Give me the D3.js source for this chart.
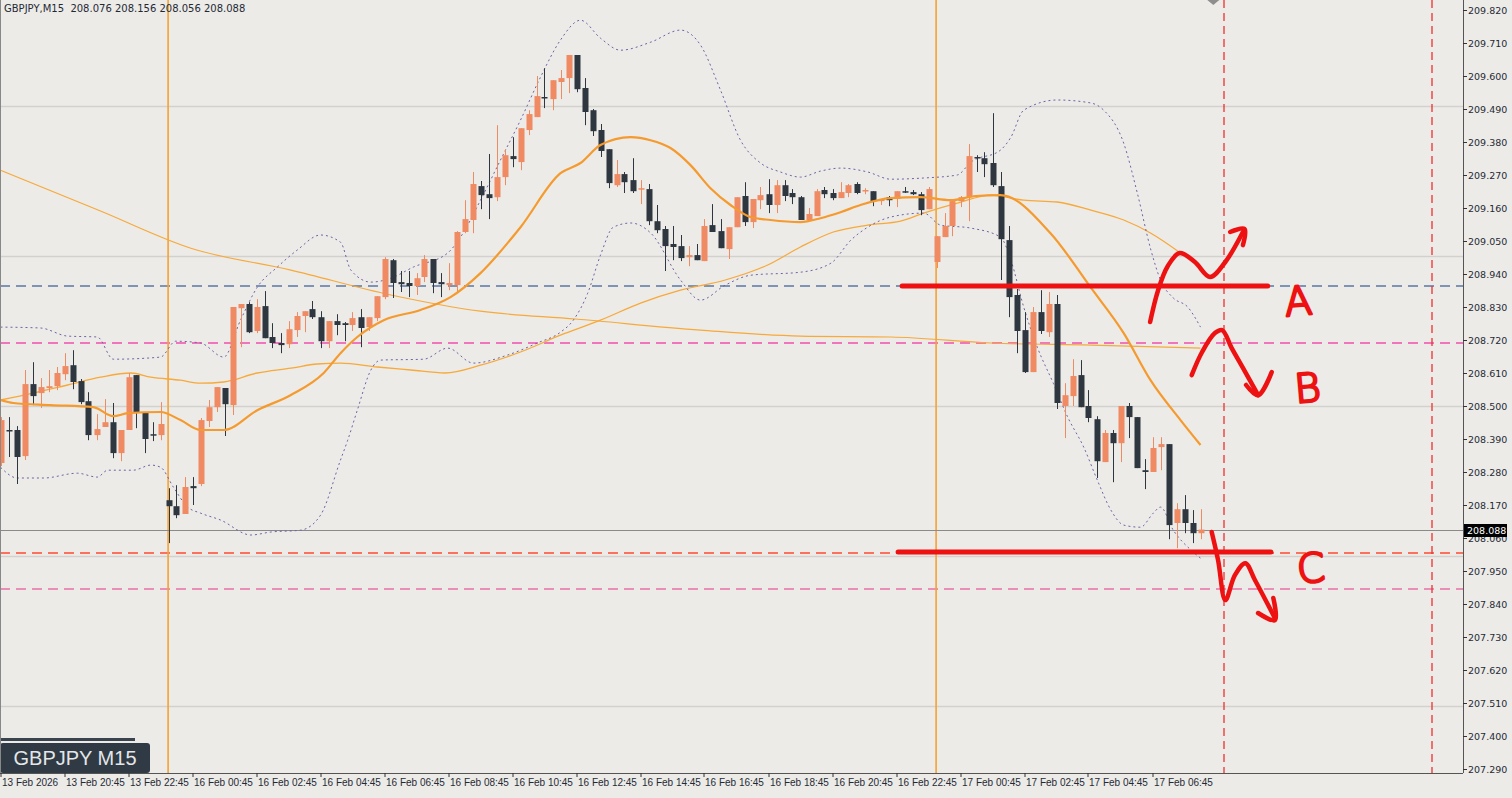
<!DOCTYPE html>
<html><head><meta charset="utf-8">
<script src="https://cdn.jsdelivr.net/npm/d3@7"></script>
<style>
html,body{margin:0;padding:0;background:#ecebe7;overflow:hidden}
svg{display:block}
</style></head><body>
<svg id="c" width="1512" height="798"></svg>
<script>
// ---------- DATA ----------
const symbolTitle = "GBPJPY,M15  208.076 208.156 208.056 208.088";
const badgeText = "GBPJPY M15";
const lastPrice = 208.088;
// candles [open, high, low, close]
const candles = [
[208.310,208.463,208.300,208.453],[208.420,208.463,208.330,208.418],[208.420,208.433,208.240,208.330],
[208.333,208.620,208.320,208.573],[208.573,208.646,208.503,208.533],[208.543,208.593,208.493,208.563],
[208.560,208.620,208.546,208.566],[208.566,208.630,208.553,208.610],[208.606,208.676,208.586,208.633],
[208.636,208.686,208.556,208.580],[208.583,208.590,208.506,208.513],[208.516,208.546,208.386,208.403],
[208.403,208.473,208.386,208.423],[208.430,208.523,208.430,208.446],[208.446,208.510,208.326,208.343],
[208.343,208.420,208.316,208.420],[208.420,208.610,208.420,208.596],[208.603,208.603,208.426,208.480],
[208.480,208.480,208.343,208.390],[208.406,208.446,208.383,208.403],[208.403,208.513,208.386,208.440],
[208.186,208.226,208.043,208.166],[208.166,208.236,208.126,208.136],[208.140,208.263,208.140,208.230],
[208.233,208.263,208.170,208.226],[208.240,208.460,208.233,208.453],[208.450,208.520,208.430,208.496],
[208.496,208.563,208.480,208.563],[208.560,208.560,208.400,208.506],[208.503,208.830,208.470,208.830],
[208.826,208.840,208.696,208.840],[208.840,208.846,208.743,208.746],[208.750,208.856,208.743,208.830],
[208.833,208.883,208.726,208.726],[208.730,208.776,208.693,208.710],[208.710,208.743,208.676,208.703],
[208.706,208.783,208.693,208.756],[208.753,208.813,208.730,208.800],[208.800,208.816,208.746,208.816],
[208.823,208.850,208.790,208.796],[208.796,208.816,208.693,208.716],[208.716,208.783,208.693,208.783],
[208.783,208.806,208.736,208.770],[208.776,208.780,208.716,208.770],[208.770,208.813,208.750,208.793],
[208.796,208.823,208.696,208.760],[208.763,208.796,208.750,208.796],[208.793,208.866,208.783,208.866],
[208.863,208.996,208.856,208.990],[208.986,208.990,208.860,208.910],[208.913,208.950,208.880,208.906],
[208.910,208.950,208.863,208.900],[208.900,208.943,208.870,208.926],[208.930,209.003,208.913,208.990],
[208.990,208.990,208.876,208.910],[208.913,208.943,208.863,208.906],[208.903,208.976,208.886,208.910],
[208.903,209.083,208.880,209.080],[209.080,209.186,209.076,209.123],[209.120,209.280,209.076,209.240],
[209.233,209.250,209.156,209.203],[209.206,209.340,209.123,209.193],[209.196,209.436,209.183,209.263],
[209.263,209.356,209.236,209.336],[209.333,209.396,209.296,209.323],[209.313,209.426,209.286,209.426],
[209.420,209.486,209.403,209.473],[209.463,209.600,209.463,209.533],[209.530,209.626,209.493,209.526],
[209.523,209.586,209.486,209.586],[209.580,209.620,209.523,209.593],[209.593,209.670,209.543,209.670],
[209.670,209.670,209.546,209.556],[209.560,209.593,209.436,209.480],[209.486,209.490,209.400,209.416],
[209.420,209.440,209.330,209.350],[209.356,209.356,209.226,209.243],[209.236,209.320,209.230,209.273],
[209.273,209.280,209.210,209.246],[209.253,209.326,209.210,209.216],[209.223,209.253,209.173,209.226],
[209.223,209.240,209.103,209.116],[209.116,209.170,209.076,209.086],[209.090,209.100,208.950,209.033],
[209.040,209.100,208.986,209.030],[209.033,209.070,208.983,208.993],[208.996,209.033,208.966,209.003],
[209.003,209.040,208.986,208.986],[208.983,209.123,208.983,209.100],[209.103,209.173,209.080,209.080],
[209.083,209.123,209.026,209.026],[209.023,209.096,208.990,209.096],[209.096,209.196,209.096,209.196],
[209.200,209.246,209.100,209.113],[209.113,209.190,209.093,209.190],[209.186,209.230,209.156,209.203],
[209.206,209.256,209.143,209.170],[209.170,209.253,209.143,209.236],[209.236,209.253,209.183,209.200],
[209.210,209.223,209.173,209.196],[209.196,209.200,209.120,209.120],[209.120,209.160,209.120,209.140],
[209.133,209.223,209.133,209.216],[209.220,209.230,209.193,209.206],[209.210,209.223,209.186,209.193],
[209.193,209.246,209.193,209.213],[209.210,209.240,209.196,209.236],[209.240,209.246,209.206,209.210],
[209.216,209.226,209.206,209.220],[209.216,209.216,209.166,209.183],[209.183,209.190,209.170,209.190],
[209.196,209.200,209.166,209.186],[209.190,209.216,209.163,209.216],[209.216,209.230,209.210,209.213],
[209.213,209.220,209.203,209.206],[209.206,209.213,209.136,209.153],[209.156,209.230,209.156,209.223],
[208.980,209.066,208.960,209.066],[209.063,209.143,209.063,209.100],[209.100,209.183,209.066,209.183],
[209.183,209.200,209.163,209.196],[209.196,209.373,209.116,209.333],[209.330,209.336,209.280,209.326],
[209.326,209.346,209.263,209.306],[209.310,209.476,209.230,209.236],[209.233,209.280,208.920,209.056],
[209.053,209.100,208.796,208.863],[208.870,208.890,208.676,208.750],[208.753,208.813,208.610,208.613],
[208.613,208.830,208.613,208.813],[208.813,208.886,208.740,208.750],[208.746,208.880,208.730,208.840],
[208.840,208.870,208.490,208.510],[208.500,208.576,208.393,208.536],[208.533,208.656,208.500,208.600],
[208.603,208.653,208.496,208.496],[208.500,208.553,208.446,208.460],[208.456,208.466,208.260,208.316],
[208.313,208.420,208.313,208.410],[208.410,208.420,208.246,208.376],[208.376,208.500,208.313,208.500],
[208.500,208.510,208.393,208.463],[208.463,208.463,208.293,208.293],[208.286,208.323,208.223,208.280],
[208.280,208.396,208.280,208.360],[208.363,208.396,208.286,208.373],[208.373,208.373,208.056,208.103],
[208.110,208.176,208.026,208.156],[208.156,208.203,208.076,208.110],[208.110,208.153,208.043,208.076],
[208.076,208.156,208.056,208.088]
];
// indicator lines [bar index, price]
const maFast = [[0,208.520],[1.6,208.510],[6.25,208.503],[11.6,208.496],[14.1,208.466],[15.9,208.476],[20,208.480],[22.5,208.453],[25,208.420],[27.9,208.420],[32.1,208.486],[36.25,208.536],[40.4,208.610],[42.5,208.676],[44.6,208.730],[47.9,208.786],[52.5,208.820],[56.25,208.863],[60,208.943],[65,209.096],[70,209.276],[72.5,209.310],[75,209.370],[78.75,209.396],[81.25,209.386],[83.75,209.360],[86.25,209.303],[88.75,209.226],[91.25,209.170],[93.75,209.130],[96.25,209.120],[100,209.113],[102.5,209.126],[105,209.146],[107.5,209.170],[111.25,209.193],[115,209.196],[118.75,209.186],[121.9,209.200],[125,209.203],[131.25,209.076],[136.25,208.896],[140.4,208.743],[143.75,208.586],[147.5,208.453],[150,208.370]];
const maMid = [[0,208.520],[4.1,208.543],[8.4,208.570],[12.5,208.596],[16.3,208.610],[18.8,208.596],[22.5,208.586],[25,208.576],[27.9,208.580],[32.1,208.610],[36.3,208.626],[39.6,208.640],[42.5,208.643],[47.1,208.630],[51.3,208.620],[55.6,208.610],[60,208.636],[65,208.680],[70,208.736],[75,208.786],[80,208.843],[85,208.886],[90.6,208.920],[95.9,208.970],[100,209.030],[104.1,209.080],[108.4,209.103],[112.5,209.116],[115.4,209.143],[119.6,209.176],[123.8,209.203],[127.9,209.186],[132.1,209.180],[136.3,209.153],[140.4,209.120],[143.8,209.076],[147.5,209.010]];
const maSlow = [[0,209.286],[12.5,209.150],[23.8,209.026],[36.3,208.953],[48.8,208.870],[60,208.816],[71.9,208.790],[87.5,208.753],[100,208.733],[111.3,208.730],[123.8,208.710],[136.3,208.703],[150,208.693]];
const bbUpper = [[0,208.763],[5,208.760],[8.4,208.733],[12.1,208.730],[14.1,208.656],[20,208.663],[21.9,208.716],[25,208.710],[27.9,208.663],[30,208.786],[32.1,208.896],[34.6,208.963],[37.1,209.020],[40,209.070],[42.5,209.046],[43.8,208.953],[46.3,208.913],[48.8,208.926],[51.6,208.963],[55.9,209.010],[57.5,209.063],[60,209.186],[62.5,209.320],[65,209.453],[67.5,209.596],[70,209.720],[72.5,209.786],[75,209.726],[77.5,209.686],[81.3,209.713],[85,209.753],[87.5,209.703],[90,209.553],[92.5,209.386],[95,209.310],[97.5,209.280],[100,209.263],[102.5,209.283],[105,209.293],[108.4,209.280],[111.3,209.256],[115.4,209.260],[119.6,209.270],[121.3,209.313],[125,209.353],[126.3,209.396],[127.9,209.486],[132.1,209.520],[136.3,209.510],[137.9,209.486],[140.4,209.376],[142.1,209.210],[143.8,209.020],[145,208.920],[146.6,208.860],[148.4,208.830],[150,208.763]];
const bbLower = [[0,208.296],[2.1,208.260],[5.4,208.260],[9.6,208.276],[12.1,208.263],[13.4,208.286],[16.6,208.286],[18.8,208.303],[20,208.296],[21.6,208.230],[23.4,208.163],[25,208.143],[27.5,208.120],[31.3,208.070],[33.8,208.080],[37.5,208.086],[40,208.136],[42.5,208.320],[43.4,208.386],[44.6,208.486],[46.3,208.620],[47.5,208.653],[52.9,208.656],[55.9,208.693],[59.1,208.643],[63.4,208.670],[67.1,208.710],[70,208.746],[71.6,208.786],[73.4,208.876],[75,209.003],[76.6,209.096],[78.8,209.110],[81.3,209.076],[85,208.920],[87.5,208.853],[90.6,208.903],[93.8,208.936],[100,208.946],[103.8,208.976],[106.3,209.053],[108.4,209.096],[111.3,209.130],[115.4,209.143],[117.5,209.103],[121.3,209.093],[125,209.063],[126.3,208.986],[127.9,208.830],[129.6,208.696],[131.6,208.576],[133.4,208.463],[135.4,208.363],[137.1,208.253],[138.8,208.153],[140.4,208.103],[142.5,208.096],[144.1,208.143],[145,208.163],[146.6,208.086],[148.8,208.020],[150,207.993]];
// price axis ticks
const priceTicks = [209.820,209.710,209.600,209.490,209.380,209.270,209.160,209.050,208.940,208.830,208.720,208.610,208.500,208.390,208.280,208.170,208.060,207.950,207.840,207.730,207.620,207.510,207.400,207.290];
const gridPrices = [209.5,209.0,208.5,208.0,207.5];
// time axis
const timeTickIdx = [0,8,16,24,32,40,48,56,64,72,80,88,96,104,112,120,128,136,144];
const timeLabels = ["13 Feb 2026","13 Feb 20:45","13 Feb 22:45","16 Feb 00:45","16 Feb 02:45","16 Feb 04:45","16 Feb 06:45","16 Feb 08:45","16 Feb 10:45","16 Feb 12:45","16 Feb 14:45","16 Feb 16:45","16 Feb 18:45","16 Feb 20:45","16 Feb 22:45","17 Feb 00:45","17 Feb 02:45","17 Feb 04:45","17 Feb 06:45"];
// chart objects
const daySeparators = [20.95,116.95];
const futureDashed = [152.95,178.95];
const hLevels = [
  {p:208.900,color:"#5a78a8"},
  {p:208.710,color:"#f050b0"},
  {p:208.010,color:"#ff4a30"},
  {p:207.890,color:"#e870a8"}
];
// hand-drawn annotations
const levelA = {from:112.7,to:158.4,p:208.900};
const levelC = {from:112.2,to:158.8,p:208.013};
const strokes = [
  [[143.7,208.780],[144.7,208.886],[145.9,208.966],[147.4,209.010],[149.3,208.980],[151.2,208.930],[153.1,208.980],[155.3,209.080]],
  [[153.7,209.080],[155.5,209.090],[155.3,209.036]],
  [[148.9,208.603],[150.2,208.680],[151.8,208.743],[152.7,208.753],[153.9,208.693],[155.6,208.613],[157.2,208.536]],
  [[155.7,208.570],[157.2,208.536],[158.9,208.613]],
  [[151.4,208.080],[152.2,207.986],[153.1,207.853],[154.3,207.936],[155.6,207.976],[156.8,207.920],[159.3,207.793]],
  [[157.2,207.810],[159.3,207.786],[159.1,207.860]]
];
const letters = [{t:"A",i:162.2,p:208.850},{t:"B",i:163.4,p:208.560},{t:"C",i:163.8,p:207.960}];

// ---------- DRAW ----------
const svg = d3.select("#c");
const W=1512, H=798, plotR=1463, plotB=773;
const x = d3.scaleLinear().domain([0,182.875]).range([0.5,1463.5]);
const y = d3.scaleLinear().domain([209.82,207.29]).range([10,769]);
svg.append("rect").attr("width",W).attr("height",H).attr("fill","#ecebe7");

svg.append("clipPath").attr("id","clip").append("rect").attr("x",0).attr("y",0).attr("width",plotR).attr("height",plotB);
const g = svg.append("g").attr("clip-path","url(#clip)");

g.selectAll(".grid").data(gridPrices).join("line")
 .attr("x1",0).attr("x2",plotR).attr("y1",d=>Math.round(y(d))+0.5).attr("y2",d=>Math.round(y(d))+0.5)
 .attr("stroke","#d2d1cd").attr("stroke-width",1.5);

g.selectAll(".lvl").data(hLevels).join("line")
 .attr("x1",0).attr("x2",plotR).attr("y1",d=>Math.round(y(d.p))).attr("y2",d=>Math.round(y(d.p)))
 .attr("stroke",d=>d.color).attr("stroke-width",1.4).attr("stroke-dasharray","10,6");

g.selectAll(".sep").data(daySeparators).join("line")
 .attr("x1",d=>x(d)).attr("x2",d=>x(d)).attr("y1",0).attr("y2",plotB)
 .attr("stroke","#f5a232").attr("stroke-width",1.6);
g.selectAll(".fut").data(futureDashed).join("line")
 .attr("x1",d=>Math.round(x(d))).attr("x2",d=>Math.round(x(d))).attr("y1",0).attr("y2",plotB)
 .attr("stroke","#f03030").attr("stroke-width",1.3).attr("stroke-dasharray","8,5");

g.append("line").attr("x1",0).attr("x2",plotR).attr("y1",Math.round(y(lastPrice))+0.5).attr("y2",Math.round(y(lastPrice))+0.5)
 .attr("stroke","#8a8a8a").attr("stroke-width",1);

const line = d3.line().x(d=>x(d[0])).y(d=>y(d[1])).curve(d3.curveMonotoneX);
g.append("path").attr("d",line(maSlow)).attr("fill","none").attr("stroke","#f7a93a").attr("stroke-width",1.2);
g.append("path").attr("d",line(maMid)).attr("fill","none").attr("stroke","#f7a93a").attr("stroke-width",1.3);
g.append("path").attr("d",line(bbUpper)).attr("fill","none").attr("stroke","#6f62a6").attr("stroke-width",1).attr("stroke-dasharray","2,3");
g.append("path").attr("d",line(bbLower)).attr("fill","none").attr("stroke","#6f62a6").attr("stroke-width",1).attr("stroke-dasharray","2,3");

const bull="#f08a62", bear="#2e3740";
const cs = g.append("g").selectAll("g").data(candles).join("g");
cs.append("line")
 .attr("x1",(d,i)=>Math.round(x(i))+0.5).attr("x2",(d,i)=>Math.round(x(i))+0.5)
 .attr("y1",d=>y(d[1])).attr("y2",d=>y(d[2]))
 .attr("stroke",d=>d[3]>=d[0]?bull:bear).attr("stroke-width",1);
cs.append("rect")
 .attr("x",(d,i)=>Math.round(x(i))-2.5).attr("width",6)
 .attr("y",d=>y(Math.max(d[0],d[3])))
 .attr("height",d=>Math.max(1.5,Math.abs(y(d[0])-y(d[3]))))
 .attr("fill",d=>d[3]>=d[0]?bull:bear);

g.append("path").attr("d",line(maFast)).attr("fill","none").attr("stroke","#f59a2e").attr("stroke-width",2.2);

const red="#ee1111";
[levelA,levelC].forEach(L=>{
  g.append("line").attr("x1",x(L.from)).attr("x2",x(L.to)).attr("y1",y(L.p)).attr("y2",y(L.p))
   .attr("stroke",red).attr("stroke-width",5).attr("stroke-linecap","round");
});
const sline = d3.line().x(d=>x(d[0])).y(d=>y(d[1])).curve(d3.curveCatmullRom);
strokes.forEach(s=>{
  g.append("path").attr("d",sline(s)).attr("fill","none").attr("stroke",red).attr("stroke-width",4.5)
   .attr("stroke-linecap","round").attr("stroke-linejoin","round");
});
letters.forEach(L=>{
  g.append("text").attr("x",x(L.i)).attr("y",y(L.p)).text(L.t)
   .attr("font-family","DejaVu Sans").attr("font-weight",200).attr("font-size",40).attr("fill",red)
   .attr("stroke",red).attr("stroke-width",2.6).attr("stroke-linejoin","round")
   .attr("text-anchor","middle").attr("dominant-baseline","central")
   .attr("transform",`rotate(-5,${x(L.i)},${y(L.p)})`);
});

svg.append("path").attr("d",`M${x(151.6)-6},0 L${x(151.6)+6},0 L${x(151.6)},5 Z`).attr("fill","#8e8e8e");

svg.append("text").attr("x",4).attr("y",12).text(symbolTitle).attr("xml:space","preserve")
 .attr("font-family","DejaVu Sans").attr("font-size",10).attr("fill","#1f2a36");

svg.append("rect").attr("x",0).attr("y",738).attr("width",135).attr("height",3).attr("fill","#3a444e");
svg.append("rect").attr("x",0).attr("y",743).attr("width",150).attr("height",30).attr("rx",3).attr("fill","#2f3a44");
svg.append("text").attr("x",75).attr("y",765).attr("text-anchor","middle").text(badgeText)
 .attr("font-family","Liberation Sans, Arial").attr("font-size",20).attr("fill","#e4e6e8");

svg.append("line").attr("x1",plotR+0.5).attr("x2",plotR+0.5).attr("y1",0).attr("y2",plotB).attr("stroke","#555");
svg.append("line").attr("x1",0).attr("x2",plotR).attr("y1",plotB+0.5).attr("y2",plotB+0.5).attr("stroke","#555");
svg.append("line").attr("x1",0.5).attr("x2",0.5).attr("y1",0).attr("y2",plotB).attr("stroke","#888");

const ya = svg.append("g");
priceTicks.forEach(p=>{
  const yy=Math.round(y(p))+0.5;
  ya.append("line").attr("x1",plotR).attr("x2",plotR+4).attr("y1",yy).attr("y2",yy).attr("stroke","#333");
  ya.append("text").attr("x",plotR+5).attr("y",yy+3.5).text(p.toFixed(3))
   .attr("font-family","DejaVu Sans").attr("font-size",9.5).attr("fill","#1f2a36");
});
const ly=Math.round(y(lastPrice));
ya.append("rect").attr("x",plotR+1).attr("y",ly-6).attr("width",43).attr("height",13).attr("fill","#000");
ya.append("text").attr("x",plotR+4).attr("y",ly+4).text(lastPrice.toFixed(3))
 .attr("font-family","DejaVu Sans").attr("font-size",9.5).attr("fill","#fff");

const xa = svg.append("g");
timeTickIdx.forEach((t,k)=>{
  const xx=Math.round(x(t));
  xa.append("line").attr("x1",xx).attr("x2",xx).attr("y1",plotB).attr("y2",plotB+4).attr("stroke","#333");
  xa.append("text").attr("x",xx+1).attr("y",plotB+13).text(timeLabels[k])
   .attr("font-family","Liberation Sans, Arial").attr("font-size",10).attr("fill","#1f2a36");
});
</script>
</body></html>
